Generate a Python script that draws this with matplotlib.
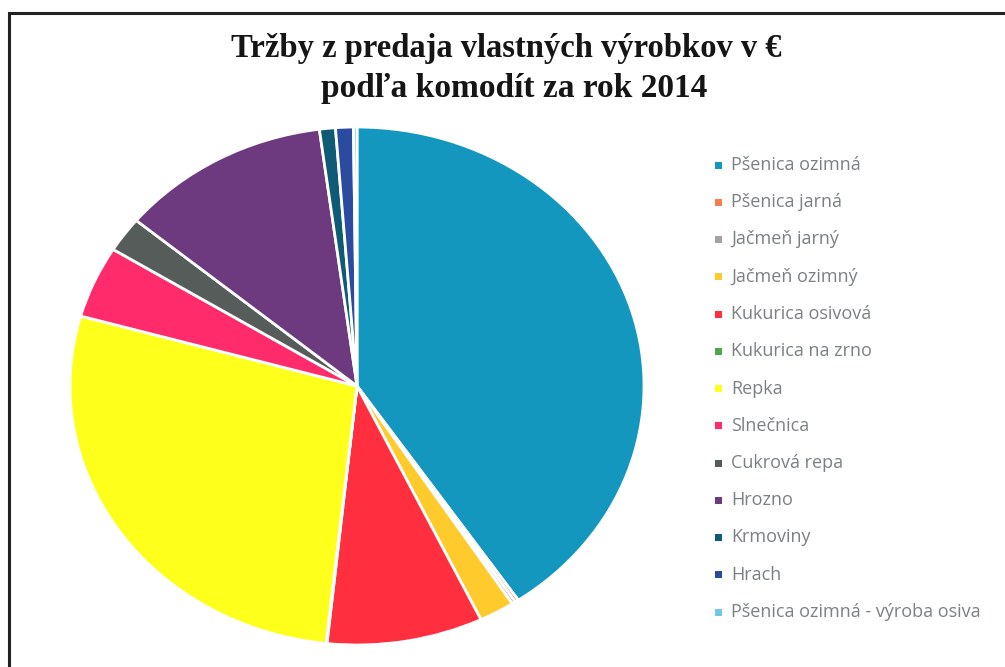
import matplotlib
matplotlib.use("Agg")
import matplotlib.pyplot as plt
from matplotlib.patches import Rectangle

# share of sales per commodity (in %)
labels = [
    "Pšenica ozimná",
    "Pšenica jarná",
    "Jačmeň jarný",
    "Jačmeň ozimný",
    "Kukurica osivová",
    "Kukurica na zrno",
    "Repka",
    "Slnečnica",
    "Cukrová repa",
    "Hrozno",
    "Krmoviny",
    "Hrach",
    "Pšenica ozimná - výroba osiva",
]
values = [40.6, 0.2, 0.2, 2.0, 8.8, 0.05, 27.7, 4.5, 2.2, 11.9, 0.9, 1.0, 0.2]
colors = [
    "#1497bf", "#f47f4e", "#a3a3a3", "#ffcb2c", "#ff2f3f", "#4ca84a",
    "#ffff1c", "#ff2b6b", "#565c59", "#6d3a80", "#0f5a74", "#2b4ba0",
    "#72c6ea",
]

W, H = 1005, 667
fig = plt.figure(figsize=(W / 100, H / 100), dpi=100)

# scanned frame (only top and left visible)
frame = Rectangle((9 / W, -0.05), 1.1, (H - 13) / H + 0.05, transform=fig.transFigure,
                  fill=False, edgecolor="#222222", lw=2.2)
fig.patches.append(frame)

# pie, slightly squashed like the scan
cx, cy, rx, ry = 357, 386, 287, 259
ax = fig.add_axes([(cx - rx) / W, (H - cy - ry) / H, 2 * rx / W, 2 * ry / H])
ax.pie(values, colors=colors, startangle=90, counterclock=False,
       wedgeprops=dict(edgecolor="white", linewidth=2))
ax.set_aspect("auto")
ax.set_xlim(-1, 1)
ax.set_ylim(-1, 1)
ax.axis("off")

# title
fig.text(506 / W, 1 - 48 / H, "Tržby z predaja vlastných výrobkov v €",
         ha="center", va="center", fontsize=23.5, fontweight="bold",
         family="Liberation Serif", color="#151515")
fig.text(514 / W, 1 - 88 / H, "podľa komodít za rok 2014",
         ha="center", va="center", fontsize=24, fontweight="bold",
         family="Liberation Serif", color="#151515")

# legend, drawn by hand
y0, dy = 165, 37.25
for i, (lab, col) in enumerate(zip(labels, colors)):
    y = y0 + i * dy
    fig.patches.append(Rectangle((715 / W, 1 - (y + 3.5) / H), 7 / W, 7 / H,
                                 transform=fig.transFigure, color=col, lw=0))
    fig.text(731 / W, 1 - y / H, lab, ha="left", va="center", fontsize=13,
             family="Open Sans", color="#7b8083")

fig.savefig("out.png", dpi=100)
